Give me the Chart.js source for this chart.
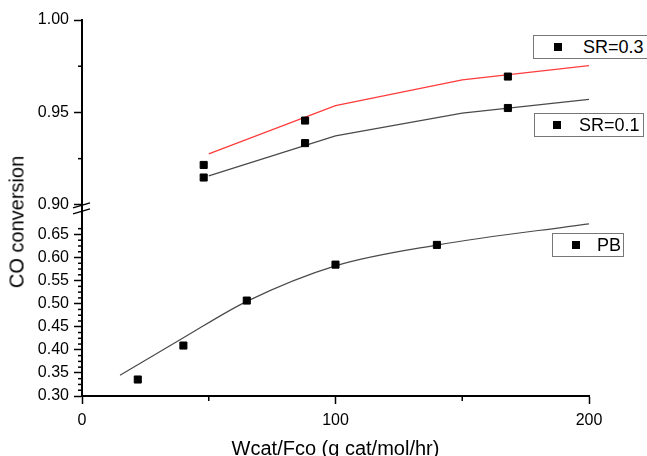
<!DOCTYPE html>
<html>
<head>
<meta charset="utf-8">
<script src="https://cdn.jsdelivr.net/npm/chart.js@4/dist/chart.umd.min.js"></script>
<style>
  body { margin: 0; background: #fff; }
  #wrap { position: relative; width: 647px; height: 456px; overflow: hidden; font-family: "Liberation Sans", Arial, sans-serif; }
  canvas { position: absolute; left: 0; top: 0; }
  .ytitle { position: absolute; left: 17px; top: 222px; transform: translate(-50%, -50%) rotate(-90deg); font-size: 20px; white-space: nowrap; color: #000; }
  .leg { position: absolute; height: 22px; border: 1px solid #777; background: #fff; }
  .leg .mk { position: absolute; width: 8px; height: 8px; background: #000; top: 7px; }
  .leg .tx { position: absolute; top: 0; line-height: 22px; font-size: 18px; color: #000; white-space: nowrap; }
</style>
</head>
<body>
<div id="wrap">
  <canvas id="chart" width="647" height="456"></canvas>
  <div class="ytitle">CO conversion</div>
  <div class="leg" style="left:533px; top:35px; width:118px;"><div class="mk" style="left:20px;"></div><span class="tx" style="left:49px;">SR=0.3</span></div>
  <div class="leg" style="left:534px; top:113px; width:108px;"><div class="mk" style="left:18px;"></div><span class="tx" style="left:44px;">SR=0.1</span></div>
  <div class="leg" style="left:552px; top:233px; width:70px;"><div class="mk" style="left:19px;"></div><span class="tx" style="left:44px;">PB</span></div>
</div>
<script>
// measured points (upper panel)
const srX = [48, 88, 168];
const sr03 = [0.9216, 0.9456, 0.9694];
const sr01 = [0.9148, 0.9334, 0.9524];
// fitted curves (upper panel)
const fitX = [50, 100, 150, 200];
const sr03Fit = [0.9276, 0.9537, 0.9676, 0.9753];
const sr01Fit = [0.9157, 0.9373, 0.9496, 0.9571];
// packed bed (lower panel)
const pbX = [22, 40, 65, 100, 140];
const pb = [0.3357, 0.4093, 0.5067, 0.5846, 0.6273];
const pbFitX = [15, 40, 65, 100, 140, 200];
const pbFit = [0.345, 0.426, 0.505, 0.582, 0.627, 0.673];

const xTicks = [0, 100, 200];
const xMinor = [50, 150];
const topTicks = [0.90, 0.95, 1.00];
const topMinor = [0.925, 0.975];
const lowTicks = [0.30, 0.35, 0.40, 0.45, 0.50, 0.55, 0.60, 0.65];
const lowMinor = [];
for (let i = 0; i < 30; i++) {
    const v = 0.30 + i * 0.0125;
    if (i % 4 !== 0 && v < 0.68) lowMinor.push(v);
}

const pts = (xs, ys) => xs.map((x, i) => ({ x: x, y: ys[i] }));

const markStyle = {
    showLine: false,
    pointStyle: 'rect',
    pointRadius: 5,
    pointBackgroundColor: '#000',
    pointBorderColor: '#000',
    pointBorderWidth: 1
};
const fitStyle = {
    showLine: true,
    pointRadius: 0,
    borderWidth: 1.2,
    fill: false
};

// minor ticks + axis break
const extras = {
    id: 'extras',
    afterDraw(chart) {
        const ctx = chart.ctx;
        const s = chart.scales;
        ctx.save();
        ctx.strokeStyle = '#000';
        ctx.lineWidth = 1.5;
        const left = s.yTop.right;
        topMinor.forEach(v => {
            const y = s.yTop.getPixelForValue(v);
            ctx.beginPath(); ctx.moveTo(left - 4, y); ctx.lineTo(left, y); ctx.stroke();
        });
        lowMinor.forEach(v => {
            const y = s.yLow.getPixelForValue(v);
            ctx.beginPath(); ctx.moveTo(left - 4, y); ctx.lineTo(left, y); ctx.stroke();
        });
        const bottom = s.x.top;
        xMinor.forEach(v => {
            const x = s.x.getPixelForValue(v);
            ctx.beginPath(); ctx.moveTo(x, bottom); ctx.lineTo(x, bottom + 5); ctx.stroke();
        });
        // break marks
        const yb = s.yTop.getPixelForValue(0.90);
        ctx.lineWidth = 1.5;
        [0, 6].forEach(d => {
            ctx.beginPath();
            ctx.moveTo(left - 9, yb + 3 + d);
            ctx.lineTo(left + 8, yb - 2 + d);
            ctx.stroke();
        });
        ctx.restore();
    }
};

const tickFont = { family: '"Liberation Sans", Arial, sans-serif', size: 16 };

function yScale(ticks, min, max, weight) {
    return {
        type: 'linear',
        position: 'left',
        stack: 'y',
        stackWeight: weight,
        min: min,
        max: max,
        grid: { display: true, drawOnChartArea: false, tickLength: 8, tickColor: '#000', tickWidth: 1.5 },
        border: { color: '#000', width: 2 },
        ticks: { font: tickFont, color: '#000', padding: 5, autoSkip: false, callback: v => v.toFixed(2) },
        afterBuildTicks: sc => { sc.ticks = ticks.map(v => ({ value: v })); },
        afterFit: sc => { sc.width = 82; }
    };
}

new Chart(document.getElementById('chart'), {
    type: 'scatter',
    data: {
        datasets: [
            Object.assign({ label: 'SR=0.3', data: pts(srX, sr03), yAxisID: 'yTop' }, markStyle),
            Object.assign({ label: 'SR=0.3 fit', data: pts(fitX, sr03Fit), yAxisID: 'yTop', borderColor: '#ff3b3b' }, fitStyle),
            Object.assign({ label: 'SR=0.1', data: pts(srX, sr01), yAxisID: 'yTop' }, markStyle),
            Object.assign({ label: 'SR=0.1 fit', data: pts(fitX, sr01Fit), yAxisID: 'yTop', borderColor: '#4a4a4a' }, fitStyle),
            Object.assign({ label: 'PB', data: pts(pbX, pb), yAxisID: 'yLow' }, markStyle),
            Object.assign({ label: 'PB fit', data: pts(pbFitX, pbFit), yAxisID: 'yLow', borderColor: '#4a4a4a', cubicInterpolationMode: 'monotone' }, fitStyle)
        ]
    },
    options: {
        responsive: false,
        animation: false,
        layout: { padding: { top: 20, right: 58, left: 0, bottom: 0 } },
        plugins: { legend: { display: false }, tooltip: { enabled: false } },
        scales: {
            x: {
                type: 'linear',
                position: 'bottom',
                min: 0,
                max: 200,
                grid: { display: true, drawOnChartArea: false, tickLength: 8, tickColor: '#000', tickWidth: 1.5 },
                border: { color: '#000', width: 2 },
                ticks: { font: tickFont, color: '#000', padding: 7, autoSkip: false, maxRotation: 0 },
                afterBuildTicks: sc => { sc.ticks = xTicks.map(v => ({ value: v })); },
                afterFit: sc => { sc.height = 60; },
                title: {
                    display: true,
                    text: 'Wcat/Fco (g cat/mol/hr)',
                    color: '#000',
                    font: { family: '"Liberation Sans", Arial, sans-serif', size: 20, lineHeight: 1 },
                    padding: { top: 0, bottom: -3 }
                }
            },
            // the first stacked axis goes to the bottom
            yLow: yScale(lowTicks, 0.30, 0.70, 184.8),
            yTop: yScale(topTicks, 0.8965, 1.0, 191.5)
        }
    },
    plugins: [extras]
});
</script>
</body>
</html>
